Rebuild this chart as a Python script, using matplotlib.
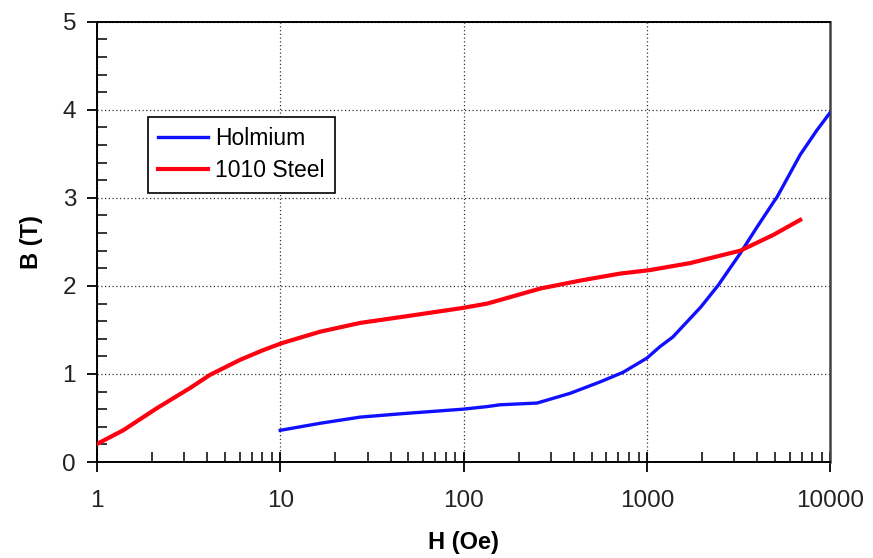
import matplotlib
matplotlib.use("Agg")
import matplotlib.pyplot as plt
from matplotlib.ticker import LogLocator, FixedLocator, MultipleLocator, NullFormatter, FuncFormatter
import numpy as np

plt.rcParams['font.family'] = ['Liberation Sans', 'DejaVu Sans']

# Magnetisation curves: field H (Oe) and flux density B (T)
steel_H = [1, 1.39, 2.12, 3.22, 4.14, 6.03, 8.05, 10.2, 16.5, 27.3, 46.8,
           99, 135, 158, 262, 431, 714, 1040, 1727, 3230, 4900, 6860]
steel_B = [0.205, 0.36, 0.61, 0.84, 0.99, 1.16, 1.27, 1.35, 1.48, 1.58, 1.65,
           1.75, 1.80, 1.84, 1.97, 2.06, 2.14, 2.18, 2.26, 2.40, 2.58, 2.75]

holmium_H = [10, 16.5, 27.3, 46.8, 99, 135, 158, 252, 381, 556, 743, 1000,
             1178, 1385, 1968, 2454, 3230, 3993, 4900, 5130, 6860, 8470, 10000]
holmium_B = [0.36, 0.44, 0.51, 0.55, 0.60, 0.63, 0.65, 0.67, 0.78, 0.91, 1.02,
             1.18, 1.31, 1.42, 1.76, 2.01, 2.37, 2.67, 2.95, 3.01, 3.49, 3.77, 3.97]

x_ticks = [1, 10, 100, 1000, 10000]
y_ticks = [0, 1, 2, 3, 4, 5]

fig = plt.figure(figsize=(8.73, 5.58), dpi=100)
ax = fig.add_axes([0.111, 0.172, 0.840, 0.789])

ax.plot(holmium_H, holmium_B, color='#1010ff', lw=2.4, label='Holmium', zorder=3,
        solid_joinstyle='round')
ax.plot(steel_H, steel_B, color='#ff0010', lw=3.0, label='1010 Steel', zorder=3,
        solid_joinstyle='round')

ax.set_xscale('log')
ax.set_xlim(1, 10000)
ax.set_ylim(0, 5)

ax.xaxis.set_major_locator(FixedLocator(x_ticks))
ax.xaxis.set_major_formatter(FuncFormatter(lambda v, p: f"{int(round(v))}"))
ax.xaxis.set_minor_locator(LogLocator(base=10, subs=np.arange(2, 10)))
ax.xaxis.set_minor_formatter(NullFormatter())
ax.yaxis.set_major_locator(FixedLocator(y_ticks))
ax.yaxis.set_minor_locator(MultipleLocator(0.2))

ax.tick_params(axis='x', which='major', direction='inout', length=14, width=1.3,
               labelsize=17.5, pad=13, colors='black', labelcolor='#222222')
ax.tick_params(axis='x', which='minor', direction='in', length=7, width=1.1)
ax.tick_params(axis='y', which='major', direction='out', length=7, width=1.3,
               labelsize=17.5, pad=8, labelcolor='#222222')
ax.tick_params(axis='y', which='minor', direction='in', length=7, width=1.1)

ax.grid(True, which='major', linestyle=(0, (1, 2)), color='#333333', lw=0.9)

for side in ['left', 'bottom', 'top']:
    ax.spines[side].set_linewidth(1.4)
    ax.spines[side].set_color('black')
ax.spines['right'].set_linewidth(1.8)
ax.spines['right'].set_color('#444444')

ax.set_xlabel('H (Oe)', fontsize=17, fontweight='bold', labelpad=14)
ax.set_ylabel('B (T)', fontsize=17, fontweight='bold', labelpad=14)

leg = ax.legend(loc='upper left', bbox_to_anchor=(0.069, 0.784), fontsize=16.5,
                frameon=True, fancybox=False, handlelength=2.2,
                borderpad=0.45, labelspacing=0.4, handletextpad=0.3,
                borderaxespad=0)
leg.get_frame().set_edgecolor('black')
leg.get_frame().set_linewidth(1.2)
leg.get_frame().set_alpha(1)

fig.savefig('out.png', dpi=100)
